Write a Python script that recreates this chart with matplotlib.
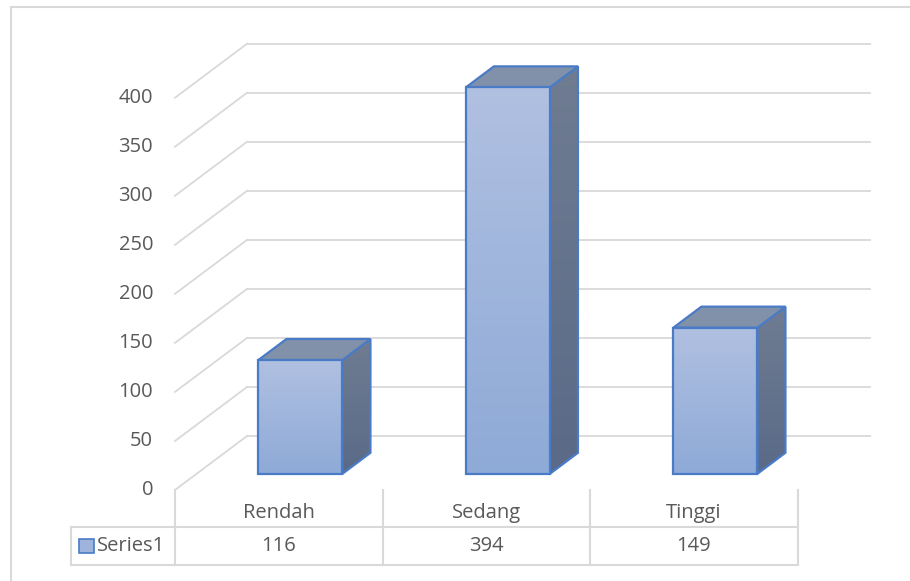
"""
Excel-style 3D column chart with a data table underneath.
"""

import numpy as np
import matplotlib
matplotlib.use('Agg')
import matplotlib.pyplot as plt
import matplotlib.transforms as mtransforms
from matplotlib.colors import LinearSegmentedColormap
from matplotlib.patches import Polygon

CATEGORIES = ['Rendah', 'Sedang', 'Tinggi']
VALUES     = [116, 394, 149]
SERIES     = 'Series1'
Y_TICKS    = [0, 50, 100, 150, 200, 250, 300, 350, 400]

TEXT_COL  = '#595959'
GRID_COL  = '#d9d9d9'
EDGE_COL  = '#4a7bc6'
FRONT_TOP, FRONT_BOT = '#b0c0e1', '#8eaad7'
SIDE_TOP,  SIDE_BOT  = '#6f7c92', '#5a6a87'
TOP_COL   = '#8191aa'

DEPTH   = np.array([0.347, 55.0])   # full floor depth offset in (category, value) units
BAR_F0  = 0.30                       # bar front face at this depth fraction
BAR_F1  = 0.69                       # bar back face
BAR_W   = 0.405

plt.rcParams['font.family'] = ['Open Sans', 'DejaVu Sans']

W, H = 910, 581
PX_PER_UNIT = 392.3 / 400
Y_TOP = 470   # axes top in value units (room for the 3D back wall)

fig = plt.figure(figsize=(W / 100, H / 100), dpi=100)

# overlay in pixel coords for border and table
ov = fig.add_axes([0, 0, 1, 1])
ov.set_xlim(0, W)
ov.set_ylim(H, 0)
ov.axis('off')

# main plot: front plane of the 3D box
ax = fig.add_axes([175 / W, (H - 490) / H, 622.5 / W, Y_TOP * PX_PER_UNIT / H])
ax.axis('off')

# chart border (only top / left visible)
ov.plot([11, W], [7, 7], color=GRID_COL, lw=1.5)
ov.plot([11, 11], [7, H], color=GRID_COL, lw=1.5)

# ── walls / gridlines ─────────────────────────────────────────────────────────
n = len(CATEGORIES)
for v in Y_TICKS:
    ax.plot([0, DEPTH[0]], [v, v + DEPTH[1]], color=GRID_COL, lw=1.3,
            clip_on=False, zorder=1)
    ax.plot([DEPTH[0], n + DEPTH[0]], [v + DEPTH[1], v + DEPTH[1]],
            color=GRID_COL, lw=1.3, clip_on=False, zorder=1)
    ax.text(-0.106, v, str(v), ha='right', va='center', fontsize=14.5,
            color=TEXT_COL)


# ── bars ──────────────────────────────────────────────────────────────────────
def gradient(ax, extent, c_top, c_bot, clip=None, z=3):
    cmap = LinearSegmentedColormap.from_list('g', [c_bot, c_top])
    grad = np.linspace(0, 1, 256).reshape(-1, 1)
    im = ax.imshow(grad, extent=extent, origin='lower', cmap=cmap,
                   aspect='auto', zorder=z)
    if clip is not None:
        im.set_clip_path(clip)
    return im


for i, v in enumerate(VALUES):
    x0 = i + 0.5 - BAR_W / 2
    x1 = x0 + BAR_W
    o0 = DEPTH * BAR_F0
    o1 = DEPTH * BAR_F1

    fx0, fx1 = x0 + o0[0], x1 + o0[0]
    fy0, fy1 = o0[1], v + o0[1]
    bx1 = x1 + o1[0]
    by0, by1 = o1[1], v + o1[1]

    # side face
    side = Polygon([(fx1, fy0), (bx1, by0), (bx1, by1), (fx1, fy1)],
                   closed=True, facecolor='none', edgecolor='none')
    side.set_transform(ax.transData)
    gradient(ax, (fx1, bx1, fy0, by1), SIDE_TOP, SIDE_BOT, clip=side, z=3)
    ax.add_patch(Polygon([(fx1, fy0), (bx1, by0), (bx1, by1), (fx1, fy1)],
                         closed=True, facecolor='none', edgecolor=EDGE_COL,
                         lw=1.6, zorder=4))

    # top face
    ax.add_patch(Polygon([(fx0, fy1), (fx1, fy1), (bx1, by1),
                          (x0 + o1[0], by1)],
                         closed=True, facecolor=TOP_COL, edgecolor=EDGE_COL,
                         lw=1.6, zorder=4))

    # front face
    gradient(ax, (fx0, fx1, fy0, fy1), FRONT_TOP, FRONT_BOT, z=5)
    ax.add_patch(Polygon([(fx0, fy0), (fx1, fy0), (fx1, fy1), (fx0, fy1)],
                         closed=True, facecolor='none', edgecolor=EDGE_COL,
                         lw=1.6, zorder=6))

ax.set_xlim(0, n)
ax.set_ylim(0, Y_TOP)

# ── data table ────────────────────────────────────────────────────────────────
tr = mtransforms.blended_transform_factory(ax.transData, ov.transData)
ROW1_TOP, ROW_MID, ROW_BOT = 490, 527, 565
LEG_LEFT = 71

for k in range(n + 1):
    ov.plot([k, k], [ROW1_TOP, ROW_BOT], color=GRID_COL, lw=1.5,
            transform=tr, clip_on=False)
x_right = ax.transData.transform((n, 0))[0] / fig.dpi * 100
for yy in (ROW_MID, ROW_BOT):
    ov.plot([LEG_LEFT, x_right], [yy, yy], color=GRID_COL, lw=1.5)
ov.plot([LEG_LEFT, LEG_LEFT], [ROW_MID, ROW_BOT], color=GRID_COL, lw=1.5)

for i, (cat, v) in enumerate(zip(CATEGORIES, VALUES)):
    ov.text(i + 0.5, 513, cat, ha='center', va='center', fontsize=14.5,
            color=TEXT_COL, transform=tr)
    ov.text(i + 0.5, 546, str(v), ha='center', va='center', fontsize=14.5,
            color=TEXT_COL, transform=tr)

# legend key
key = Polygon([(79, 539), (94, 539), (94, 553), (79, 553)], closed=True,
              facecolor='#9fb4dc', edgecolor=EDGE_COL, lw=1.2)
ov.add_patch(key)
ov.text(97, 546, SERIES, ha='left', va='center', fontsize=14.5, color=TEXT_COL)

fig.savefig('out.png', dpi=100)
